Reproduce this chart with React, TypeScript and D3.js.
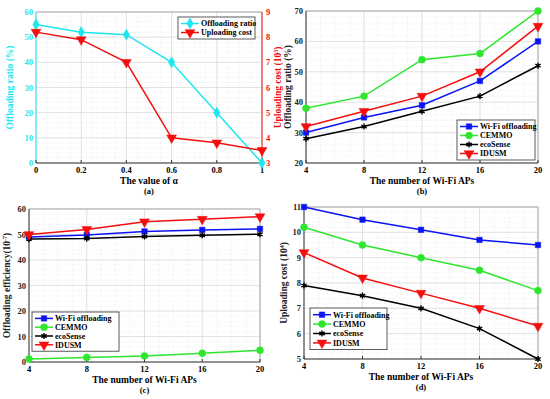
import React, { useEffect, useRef } from "react";
import * as d3 from "d3";

// panel (a)
const alphaValues = [0, 0.2, 0.4, 0.6, 0.8, 1];
const ratioByAlpha = [55, 52, 51, 40, 20, 0];
const costByAlpha = [8.2, 7.9, 7.0, 4.0, 3.8, 3.5];

// panels (b)-(d)
const apCounts = [4, 8, 12, 16, 20];
const seriesNames = ["Wi-Fi offloading", "CEMMO", "ecoSense", "IDUSM"];

const ratioWifi = [30, 35, 39, 47, 60];
const ratioCemmo = [38, 42, 54, 56, 70];
const ratioEco = [28, 32, 37, 42, 52];
const ratioIdusm = [32, 37, 42, 50, 65];

const effWifi = [49, 49.8, 51.2, 51.8, 52.2];
const effCemmo = [1.2, 1.8, 2.4, 3.4, 4.6];
const effEco = [48.2, 48.4, 49.2, 49.7, 50.1];
const effIdusm = [50, 52, 55, 56, 57];

const costWifi = [11, 10.5, 10.1, 9.7, 9.5];
const costCemmo = [10.2, 9.5, 9.0, 8.5, 7.7];
const costEco = [7.9, 7.5, 7.0, 6.2, 5.0];
const costIdusm = [9.2, 8.2, 7.6, 7.0, 6.3];

const CYAN = "#1ee6ee";
const RED = "#f40f0f";
const BLUE = "#0a14f5";
const GREEN = "#2ee62e";
const BLACK = "#000";

const seriesStyle = [
  { color: BLUE, symbol: "square" },
  { color: GREEN, symbol: "circle" },
  { color: BLACK, symbol: "star" },
  { color: RED, symbol: "tri" },
];

const FONT = "'Liberation Serif', 'Times New Roman', serif";

const drawMarker = (g, symbol, color, x, y) => {
  let path;
  let rot = 0;
  if (symbol === "square") path = d3.symbol(d3.symbolSquare, 30)();
  else if (symbol === "circle") path = d3.symbol(d3.symbolCircle, 38)();
  else if (symbol === "diamond") {
    path = d3.symbol(d3.symbolDiamond, 36)();
  } else if (symbol === "tri") {
    path = d3.symbol(d3.symbolTriangle, 42)();
    rot = 180;
  } else {
    path = d3.symbol(d3.symbolAsterisk, 26)();
  }
  g.append("path")
    .attr("d", path)
    .attr("transform", `translate(${x},${y}) rotate(${rot})`)
    .attr("fill", symbol === "star" ? "none" : color)
    .attr("stroke", color)
    .attr("stroke-width", symbol === "star" ? 1.4 : 0.5);
};

const App = () => {
  const svgRef = useRef(null);

  useEffect(() => {
    const svg = d3.select(svgRef.current);
    svg.selectAll("*").remove();

    const panel = (cfg) => {
      const { left, right, top, bottom } = cfg;
      const x = d3.scaleLinear().domain(cfg.xDomain).range([left, right]);
      const y = d3.scaleLinear().domain(cfg.yDomain).range([bottom, top]);
      const g = svg.append("g");

      // minor grid
      const xMinor = d3.range(cfg.xDomain[0], cfg.xDomain[1] + 1e-9, cfg.xMinor);
      const yMinor = d3.range(cfg.yDomain[0], cfg.yDomain[1] + 1e-9, cfg.yMinor);
      g.selectAll("line.xm")
        .data(xMinor)
        .join("line")
        .attr("x1", (d) => x(d))
        .attr("x2", (d) => x(d))
        .attr("y1", top)
        .attr("y2", bottom)
        .attr("stroke", "#e6e6e6")
        .attr("stroke-width", 0.6)
        .attr("stroke-dasharray", "1,1.5");
      g.selectAll("line.ym")
        .data(yMinor)
        .join("line")
        .attr("x1", left)
        .attr("x2", right)
        .attr("y1", (d) => y(d))
        .attr("y2", (d) => y(d))
        .attr("stroke", "#e6e6e6")
        .attr("stroke-width", 0.6)
        .attr("stroke-dasharray", "1,1.5");

      // major grid
      g.selectAll("line.xg")
        .data(cfg.xTicks)
        .join("line")
        .attr("x1", (d) => x(d))
        .attr("x2", (d) => x(d))
        .attr("y1", top)
        .attr("y2", bottom)
        .attr("stroke", "#d8d8d8")
        .attr("stroke-width", 0.7);
      g.selectAll("line.yg")
        .data(cfg.yTicks)
        .join("line")
        .attr("x1", left)
        .attr("x2", right)
        .attr("y1", (d) => y(d))
        .attr("y2", (d) => y(d))
        .attr("stroke", "#d8d8d8")
        .attr("stroke-width", 0.7);

      // box
      g.append("line").attr("x1", left).attr("x2", right).attr("y1", top).attr("y2", top)
        .attr("stroke", "#aaa").attr("stroke-width", 1);
      g.append("line").attr("x1", right).attr("x2", right).attr("y1", top).attr("y2", bottom)
        .attr("stroke", cfg.rightColor || "#aaa").attr("stroke-width", 1);
      g.append("line").attr("x1", left).attr("x2", right).attr("y1", bottom).attr("y2", bottom)
        .attr("stroke", "#333").attr("stroke-width", 1);
      g.append("line").attr("x1", left).attr("x2", left).attr("y1", top).attr("y2", bottom)
        .attr("stroke", cfg.leftColor || "#333").attr("stroke-width", 1);

      // ticks
      g.selectAll("line.xt")
        .data(cfg.xTicks)
        .join("line")
        .attr("x1", (d) => x(d))
        .attr("x2", (d) => x(d))
        .attr("y1", bottom)
        .attr("y2", bottom - 3)
        .attr("stroke", "#333");
      g.selectAll("text.xt")
        .data(cfg.xTicks)
        .join("text")
        .attr("x", (d) => x(d))
        .attr("y", bottom + 10)
        .attr("text-anchor", "middle")
        .style("font-size", "8.5px")
        .style("font-weight", "bold")
        .style("font-family", FONT)
        .text((d) => cfg.xFormat(d));
      g.selectAll("text.yt")
        .data(cfg.yTicks)
        .join("text")
        .attr("x", left - 3)
        .attr("y", (d) => y(d) + 3)
        .attr("text-anchor", "end")
        .style("font-size", "8.5px")
        .style("font-weight", "bold")
        .style("font-family", FONT)
        .attr("fill", cfg.leftColor || "#222")
        .text((d) => d);

      // axis labels
      g.append("text")
        .attr("x", (left + right) / 2)
        .attr("y", bottom + 20.5)
        .attr("text-anchor", "middle")
        .style("font-size", "9.5px")
        .style("font-weight", "bold")
        .style("font-family", FONT)
        .text(cfg.xLabel);
      g.append("text")
        .attr("x", (left + right) / 2)
        .attr("y", bottom + 30.5)
        .attr("text-anchor", "middle")
        .style("font-size", "8.5px")
        .style("font-weight", "bold")
        .style("font-family", FONT)
        .text(cfg.caption);
      const yl = g.append("text")
        .attr("transform", `translate(${cfg.yLabelX},${(top + bottom) / 2}) rotate(-90)`)
        .attr("text-anchor", "middle")
        .style("font-size", "9.5px")
        .style("font-weight", "bold")
        .style("font-family", FONT)
        .attr("fill", cfg.leftColor || "#222");
      yl.append("tspan").text(cfg.yLabel[0]);
      yl.append("tspan").attr("dy", -3).style("font-size", "6px").text(cfg.yLabel[1]);
      yl.append("tspan").attr("dy", 3).text(cfg.yLabel[2]);

      return { g, x, y };
    };

    const drawSeries = (g, x, y, xs, ys, color, symbol) => {
      const line = d3.line().x((d) => x(d[0])).y((d) => y(d[1]));
      const pts = xs.map((v, i) => [v, ys[i]]);
      g.append("path")
        .attr("d", line(pts))
        .attr("fill", "none")
        .attr("stroke", color)
        .attr("stroke-width", 1.5);
      pts.forEach((p) => drawMarker(g, symbol, color, x(p[0]), y(p[1])));
    };

    const legend = (g, x0, y0, w, rows, rowH) => {
      g.append("rect")
        .attr("x", x0)
        .attr("y", y0)
        .attr("width", w)
        .attr("height", rows.length * rowH + 4)
        .attr("fill", "#fff")
        .attr("stroke", "#333")
        .attr("stroke-width", 0.8);
      rows.forEach((r, i) => {
        const cy = y0 + 2 + rowH * (i + 0.5);
        g.append("line")
          .attr("x1", x0 + 3)
          .attr("x2", x0 + 21)
          .attr("y1", cy)
          .attr("y2", cy)
          .attr("stroke", r.color)
          .attr("stroke-width", 1.5);
        drawMarker(g, r.symbol, r.color, x0 + 12, cy);
        g.append("text")
          .attr("x", x0 + 23)
          .attr("y", cy + 2.8)
          .style("font-size", "8px")
          .style("font-weight", "bold")
          .style("font-family", FONT)
          .text(r.name);
      });
    };

    // (a)
    const a = panel({
      left: 36, right: 262, top: 12, bottom: 163,
      xDomain: [0, 1], yDomain: [0, 60],
      xTicks: alphaValues, yTicks: d3.range(0, 61, 10),
      xMinor: 0.05, yMinor: 2,
      xFormat: (d) => String(d),
      xLabel: "The value of \u03b1", caption: "(a)",
      yLabel: ["Offloading ratio (%)", "", ""], yLabelX: 13,
      leftColor: CYAN, rightColor: RED,
    });
    const yCost = d3.scaleLinear().domain([3, 9]).range([163, 12]);
    a.g.selectAll("text.yr")
      .data(d3.range(3, 10))
      .join("text")
      .attr("x", 266)
      .attr("y", (d) => yCost(d) + 3)
      .style("font-size", "8.5px")
      .style("font-weight", "bold")
      .style("font-family", FONT)
      .attr("fill", RED)
      .text((d) => d);
    const rl = a.g.append("text")
      .attr("transform", `translate(281,${(12 + 163) / 2}) rotate(-90)`)
      .attr("text-anchor", "middle")
      .style("font-size", "9.5px")
      .style("font-weight", "bold")
      .style("font-family", FONT)
      .attr("fill", RED);
    rl.append("tspan").text("Uploading cost (10");
    rl.append("tspan").attr("dy", -3).style("font-size", "6px").text("3");
    rl.append("tspan").attr("dy", 3).text(")");
    drawSeries(a.g, a.x, a.y, alphaValues, ratioByAlpha, CYAN, "diamond");
    drawSeries(a.g, a.x, yCost, alphaValues, costByAlpha, RED, "tri");
    legend(a.g, 178, 17, 77, [
      { name: "Offloading ratio", color: CYAN, symbol: "diamond" },
      { name: "Uploading cost", color: RED, symbol: "tri" },
    ], 9);

    const rows = seriesNames.map((n, i) => ({ name: n, ...seriesStyle[i] }));

    // (b)
    const b = panel({
      left: 306, right: 538, top: 11, bottom: 163,
      xDomain: [4, 20], yDomain: [20, 70],
      xTicks: apCounts, yTicks: d3.range(20, 71, 10),
      xMinor: 1, yMinor: 2,
      xFormat: (d) => String(d),
      xLabel: "The number of Wi-Fi APs", caption: "(b)",
      yLabel: ["Offloading ratio (%)", "", ""], yLabelX: 291,
    });
    [ratioWifi, ratioCemmo, ratioEco, ratioIdusm].forEach((s, i) =>
      drawSeries(b.g, b.x, b.y, apCounts, s, seriesStyle[i].color, seriesStyle[i].symbol));
    legend(b.g, 457, 120, 78, rows, 9);

    // (c)
    const c = panel({
      left: 29, right: 260, top: 209, bottom: 362,
      xDomain: [4, 20], yDomain: [0, 60],
      xTicks: apCounts, yTicks: d3.range(0, 61, 10),
      xMinor: 1, yMinor: 2,
      xFormat: (d) => String(d),
      xLabel: "The number of Wi-Fi APs", caption: "(c)",
      yLabel: ["Offloading efficiency(10", "-7", ")"], yLabelX: 10,
    });
    [effWifi, effCemmo, effEco, effIdusm].forEach((s, i) =>
      drawSeries(c.g, c.x, c.y, apCounts, s, seriesStyle[i].color, seriesStyle[i].symbol));
    legend(c.g, 32, 312, 87, rows, 8.8);

    // (d)
    const d = panel({
      left: 304, right: 538, top: 207, bottom: 359,
      xDomain: [4, 20], yDomain: [5, 11],
      xTicks: apCounts, yTicks: d3.range(5, 12, 1),
      xMinor: 1, yMinor: 0.2,
      xFormat: (v) => String(v),
      xLabel: "The number of Wi-Fi APs", caption: "(d)",
      yLabel: ["Uploading cost (10", "4", ")"], yLabelX: 287,
    });
    [costWifi, costCemmo, costEco, costIdusm].forEach((s, i) =>
      drawSeries(d.g, d.x, d.y, apCounts, s, seriesStyle[i].color, seriesStyle[i].symbol));
    legend(d.g, 310, 308, 77, rows, 9.4);
  }, []);

  return (
    <div style={{ position: "fixed", left: 0, top: 0 }}>
      <svg ref={svgRef} width={550} height={399} style={{ display: "block", background: "#fff" }}></svg>
    </div>
  );
};

export default App;
